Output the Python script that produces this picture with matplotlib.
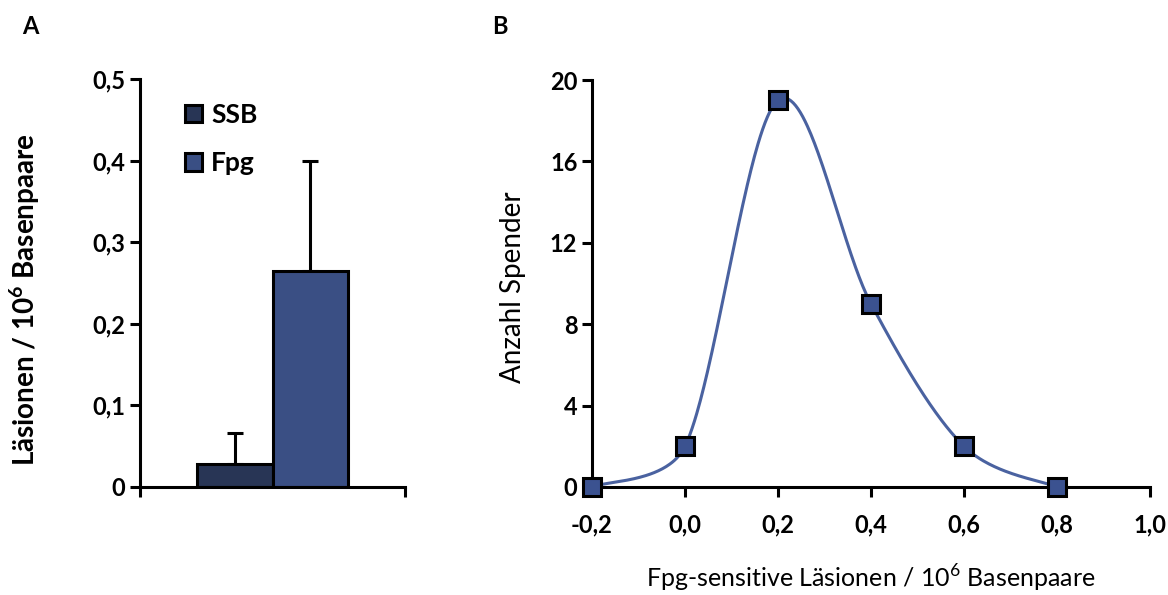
import numpy as np
import matplotlib
matplotlib.use("Agg")
import matplotlib.pyplot as plt

plt.rcParams['font.family'] = ['Lato', 'DejaVu Sans']
plt.rcParams['mathtext.fontset'] = 'custom'
plt.rcParams['mathtext.rm'] = 'Lato'
plt.rcParams['mathtext.bf'] = 'Lato:bold'

# Panel A: Mittelwerte mit Standardabweichung
gruppen = ['SSB', 'Fpg']
mittel = [0.028, 0.265]
fehler = [0.038, 0.135]
farben_a = ['#283555', '#3a4f84']

# Panel B: Verteilung der Spender
x_werte = [-0.2, 0.0, 0.2, 0.4, 0.6, 0.8]
spender = [0, 2, 19, 9, 2, 0]

fig = plt.figure(figsize=(11.68, 5.95), dpi=100)

## A
ax1 = fig.add_axes([140/1168, 1-487/595, 265/1168, 408/595])
pos = [0.358, 0.643]
for p, m, f, c, g in zip(pos, mittel, fehler, farben_a, gruppen):
    ax1.bar(p, m, width=0.285, color=c, edgecolor='black', linewidth=2.2, label=g, zorder=2)
    ax1.errorbar(p, m, yerr=[[0], [f]], fmt='none', ecolor='black', elinewidth=2.2,
                 capsize=6, capthick=2.2, zorder=1)
ax1.set_xlim(0, 1)
ax1.set_ylim(0, 0.5)
ax1.set_yticks([0, 0.1, 0.2, 0.3, 0.4, 0.5])
ax1.set_yticklabels(['0', '0,1', '0,2', '0,3', '0,4', '0,5'], fontweight='bold', fontsize=17)
ax1.set_xticks([0, 1])
ax1.set_xticklabels([])
for s in ['top', 'right']:
    ax1.spines[s].set_visible(False)
for s in ['left', 'bottom']:
    ax1.spines[s].set_linewidth(2.2)
ax1.tick_params(width=2.2, length=7)
ax1.set_ylabel(r'Läsionen / 10$^{\mathbf{6}}$ Basenpaare', fontsize=20, fontweight='bold')
ax1.yaxis.set_label_coords(-98/265, 0.46)
leg = ax1.legend(loc='upper left', bbox_to_anchor=(0.08, 1.0), frameon=False, fontsize=19,
                 handlelength=0.65, handleheight=0.65, handletextpad=0.35, labelspacing=0.92)
for t in leg.get_texts():
    t.set_fontweight('bold')
fig.text(30/1168, 1-27/595, 'A', fontsize=17, fontweight='bold', va='center', ha='center')

## B
ax2 = fig.add_axes([592/1168, 1-487/595, 558/1168, 407/595])

# geglaettete Linie: Bezier mit Catmull-Rom-Tangenten,
# Tangentenlaenge begrenzt auf einen Teil der Sehne (in Pixeln)
sx = 558 / 1.2
sy = 407 / 20.0
P = np.column_stack([np.array(x_werte) * sx, np.array(spender, dtype=float) * sy])
n = len(P)
tang = []
for i in range(n):
    a = P[max(i-1, 0)]
    b = P[min(i+1, n-1)]
    tang.append((b - a) / 6)
t = np.linspace(0, 1, 80)[:, None]
kurve = []
for i in range(n - 1):
    p1, p2 = P[i], P[i+1]
    sehne = np.linalg.norm(p2 - p1)
    d1, d2 = tang[i], tang[i+1]
    d1 = d1 * min(1, 0.4 * sehne / max(np.linalg.norm(d1), 1e-9))
    d2 = d2 * min(1, 0.4 * sehne / max(np.linalg.norm(d2), 1e-9))
    c1 = p1 + d1
    c2 = p2 - d2
    seg = (1-t)**3*p1 + 3*(1-t)**2*t*c1 + 3*(1-t)*t**2*c2 + t**3*p2
    kurve.append(seg)
kurve = np.vstack(kurve)
ax2.plot(kurve[:, 0] / sx, kurve[:, 1] / sy, color='#4a62a0', linewidth=2.2, zorder=2, clip_on=False)
ax2.plot(x_werte, spender, linestyle='none', marker='s', markersize=13, markerfacecolor='#3b5290',
         markeredgecolor='black', markeredgewidth=2.2, zorder=3, clip_on=False)

ax2.set_xlim(-0.2, 1.0)
ax2.set_ylim(0, 20)
ax2.set_xticks([-0.2, 0.0, 0.2, 0.4, 0.6, 0.8, 1.0])
ax2.set_xticklabels(['-0,2', '0,0', '0,2', '0,4', '0,6', '0,8', '1,0'], fontweight='bold', fontsize=17)
ax2.set_yticks([0, 4, 8, 12, 16, 20])
ax2.set_yticklabels(['0', '4', '8', '12', '16', '20'], fontweight='bold', fontsize=17)
for s in ['top', 'right']:
    ax2.spines[s].set_visible(False)
for s in ['left', 'bottom']:
    ax2.spines[s].set_linewidth(2.2)
ax2.tick_params(width=2.2, length=7)
ax2.tick_params(axis='x', pad=12)
ax2.set_ylabel('Anzahl Spender', fontsize=20)
ax2.yaxis.set_label_coords(-66/558, 0.49)
ax2.set_xlabel(r'Fpg-sensitive Läsionen / 10$^6$ Basenpaare', fontsize=18, labelpad=19)
fig.text(500/1168, 1-27/595, 'B', fontsize=17, fontweight='bold', va='center', ha='center')

fig.savefig('out.png', dpi=100)
